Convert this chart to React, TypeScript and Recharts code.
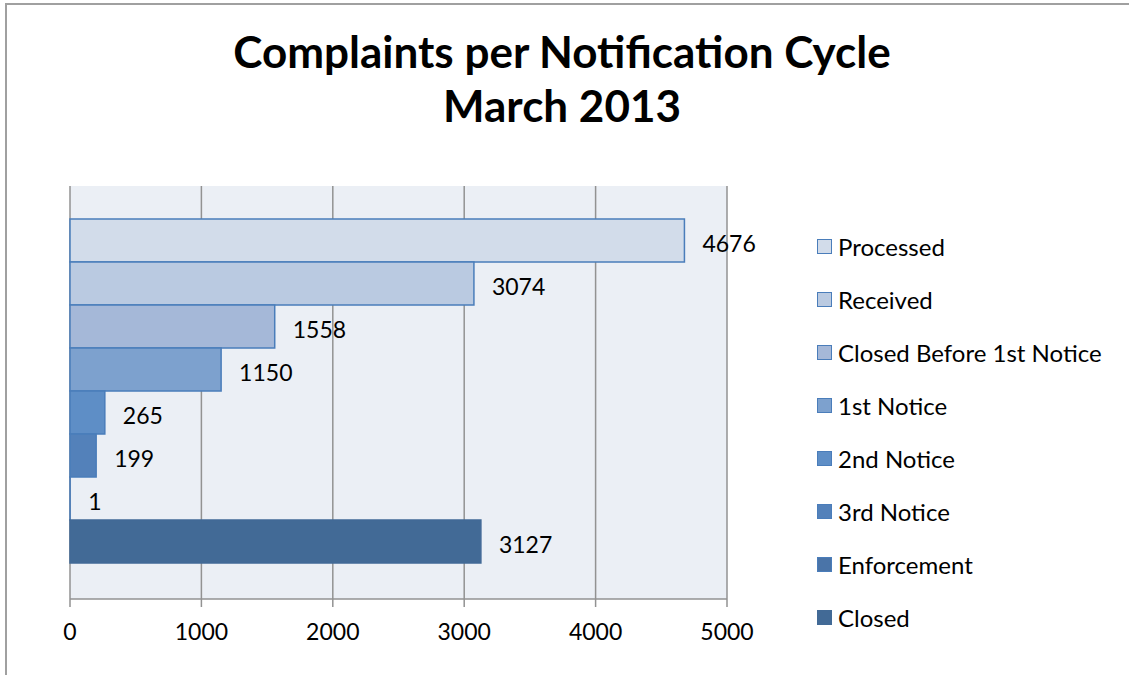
import { Bar, BarChart, CartesianGrid, LabelList, Legend, XAxis, YAxis } from 'recharts';

const categories = ['March 2013'];
const seriesNames = [
  'Processed',
  'Received',
  'Closed Before 1st Notice',
  '1st Notice',
  '2nd Notice',
  '3rd Notice',
  'Enforcement',
  'Closed',
];
const seriesValues = [4676, 3074, 1558, 1150, 265, 199, 1, 3127];
const seriesColors = ['#D2DCEA', '#BACAE1', '#A5B8D8', '#7DA1CE', '#5E8EC6', '#5381BA', '#4A74A8', '#426A96'];
const xTicks = [0, 1000, 2000, 3000, 4000, 5000];

const data = categories.map((name) => {
  const row: Record<string, string | number> = { name };
  seriesNames.forEach((s, i) => {
    row[s] = seriesValues[i];
  });
  return row;
});

const FONT = 'Lato, "Open Sans", sans-serif';

function LegendBox() {
  return (
    <div style={{ fontFamily: FONT }}>
      {seriesNames.map((s, i) => (
        <div key={s} style={{ display: 'flex', alignItems: 'center', height: 53 }}>
          <span
            style={{
              width: 13,
              height: 13,
              background: seriesColors[i],
              border: `1.5px solid ${i === 7 ? seriesColors[i] : '#4A7DBA'}`,
              marginRight: 6,
              display: 'inline-block',
            }}
          />
          <span style={{ fontSize: 24, color: '#000' }}>{s}</span>
        </div>
      ))}
    </div>
  );
}

export default function App() {
  return (
    <div style={{ position: 'absolute', left: 0, top: 0, width: 1129, height: 675, background: '#fff', overflow: 'hidden' }}>
      <div style={{ position: 'absolute', left: 5, top: 3, right: 0, height: 2, background: '#A0A0A0' }} />
      <div style={{ position: 'absolute', left: 5, top: 3, bottom: 0, width: 2, background: '#A0A0A0' }} />
      <div
        style={{
          position: 'absolute',
          left: 0,
          top: 24,
          width: 1124,
          textAlign: 'center',
          fontFamily: FONT,
          fontWeight: 700,
          fontSize: 44,
          lineHeight: '54px',
          color: '#000',
        }}
      >
        Complaints per Notification Cycle
        <br />
        March 2013
      </div>
      <BarChart
        width={1129}
        height={675}
        data={data}
        layout="vertical"
        barGap={0}
        barCategoryGap="8%"
        margin={{ top: 186, right: 102, bottom: 36, left: 70 }}
        style={{ position: 'absolute', left: 0, top: 0, fontFamily: FONT }}
      >
        <CartesianGrid horizontal={false} fill="#EBEFF5" stroke="#929292" strokeWidth={1.5} />
        <XAxis
          type="number"
          domain={[0, 5000]}
          ticks={xTicks}
          height={40}
          stroke="#929292"
          strokeWidth={1.5}
          tickSize={8}
          tick={{ fill: '#000', fontSize: 23, fontFamily: FONT }}
          tickMargin={17}
        />
        <YAxis type="category" dataKey="name" width={0} tick={false} stroke="#929292" strokeWidth={1.5} />
        <Legend
          layout="vertical"
          align="right"
          verticalAlign="top"
          content={() => <LegendBox />}
          wrapperStyle={{ left: 817, top: 220, width: 300 }}
        />
        {seriesNames.map((s, i) => (
          <Bar
            key={s}
            dataKey={s}
            fill={seriesColors[i]}
            stroke={i === 7 ? seriesColors[i] : '#4A7DBA'}
            strokeWidth={1.5}
            isAnimationActive={false}
          >
            <LabelList dataKey={s} position="right" offset={18} dy={3} fill="#000" fontSize={23} fontFamily={FONT} />
          </Bar>
        ))}
      </BarChart>
    </div>
  );
}
